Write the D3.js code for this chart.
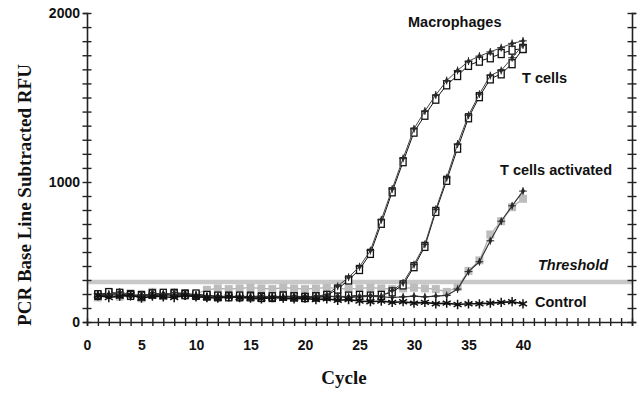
<!DOCTYPE html>
<html>
<head>
<meta charset="utf-8">
<script src="https://cdn.jsdelivr.net/npm/d3@7"></script>
<style>
  body { margin: 0; background: #fff; }
  svg { display: block; }
  .lbl { font-family: "Liberation Sans", Arial, sans-serif; font-weight: bold; font-size: 14.5px; fill: #111; }
  .ttl { font-family: "Liberation Serif", "Times New Roman", serif; font-weight: bold; fill: #111; }
</style>
</head>
<body>
<div id="chart"></div>
<script>
// cycles 1..40
var cycles = d3.range(1, 41);

var macrophagesA = [195,210,205,190,185,200,205,200,195,200,190,185,180,185,180,175,180,185,180,175,180,190,
  235,300,375,490,705,930,1120,1295,1395,1490,1575,1630,1690,1715,1735,1760,1780,1790];
var macrophagesB = [180,200,215,195,175,210,195,210,205,190,185,175,185,180,175,180,175,180,185,180,185,195,
  255,320,395,510,730,950,1140,1315,1420,1515,1600,1660,1715,1745,1770,1795,1820,1835];
var tcellsA = [190,205,200,195,190,200,195,205,200,190,185,180,185,180,185,180,175,185,180,175,180,185,180,185,190,185,190,
  215,265,395,540,790,1010,1200,1380,1505,1610,1640,1700,1790];
var tcellsB = [200,195,210,185,195,190,205,195,190,195,180,185,180,175,180,185,180,175,180,185,175,180,185,180,185,190,185,
  225,280,410,555,805,1025,1225,1395,1520,1630,1660,1735,1810];
var activatedA = [175,215,180,205,170,215,185,195,205,200,230,240,235,240,245,240,235,245,240,235,240,245,240,235,240,245,240,235,240,245,240,235,
  215,250,365,440,625,720,820,880];
var activatedB = [185,195,190,180,190,185,195,190,185,190,175,185,180,175,180,185,175,180,185,175,180,185,180,175,180,185,180,175,180,185,180,185,
  190,235,360,430,580,720,830,935];
var control = [190,175,185,195,170,185,180,175,190,180,175,170,180,175,170,165,175,170,165,170,160,165,155,160,
  150,145,150,140,145,135,140,130,135,125,130,130,135,140,145,130];

var thresholdValue = 286;

var labels = [
  {text: "Macrophages", x: 408, y: 27, italic: false},
  {text: "T cells", x: 522, y: 83, italic: false},
  {text: "T cells activated", x: 500, y: 175, italic: false},
  {text: "Threshold", x: 538, y: 270, italic: true},
  {text: "Control", x: 535, y: 307, italic: false}
];

var xTickLabels = [0, 5, 10, 15, 20, 25, 30, 35, 40];
var yTickLabels = [0, 1000, 2000];

var width = 641, height = 394;
var svg = d3.select("#chart").append("svg")
    .attr("width", width)
    .attr("height", height);

var x = d3.scaleLinear().domain([0, 50]).range([87, 632]);
// the printed axis is not evenly spaced between its labels
var y = d3.scaleLinear().domain([0, 1000, 2000]).range([322, 182, 13]);

var yTicks = d3.range(0, 1000, 100).concat(d3.range(0, 13).map(function(i) { return 1000 + i * 1000 / 12; }));

// threshold line
svg.append("line")
    .attr("x1", x(0)).attr("x2", x(50))
    .attr("y1", y(thresholdValue)).attr("y2", y(thresholdValue))
    .attr("stroke", "#c8c8c8")
    .attr("stroke-width", 4.5);

// axes
var xAxis = svg.append("g")
    .attr("transform", "translate(0," + y(0) + ")")
    .call(d3.axisBottom(x).tickValues(d3.range(0, 51)).tickSize(4).tickPadding(14)
        .tickFormat(function(d) { return xTickLabels.indexOf(d) >= 0 ? d : ""; }));
var yAxis = svg.append("g")
    .attr("transform", "translate(" + x(0) + ",0)")
    .call(d3.axisLeft(y).tickValues(yTicks).tickSize(4).tickPadding(3)
        .tickFormat(function(d) { return yTickLabels.indexOf(d) >= 0 ? d : ""; }));
var rAxis = svg.append("g")
    .attr("transform", "translate(" + x(50) + ",0)")
    .call(d3.axisRight(y).tickValues(yTicks).tickSize(4).tickFormat(""));

[xAxis, yAxis, rAxis].forEach(function(g) {
  g.select(".domain").attr("stroke", "#222").attr("stroke-width", 1.6);
  g.selectAll(".tick line").attr("stroke", "#222").attr("stroke-width", 1.4);
  g.selectAll("text")
    .attr("font-family", "Liberation Sans, Arial, sans-serif")
    .attr("font-weight", "bold")
    .attr("font-size", "14px")
    .attr("fill", "#111");
});
xAxis.selectAll(".tick line").attr("y1", -4).attr("y2", 4);
yAxis.selectAll(".tick line").attr("x1", -4.5).attr("x2", 4.5);
rAxis.selectAll(".tick line").attr("x1", -4.5).attr("x2", 4.5);

// series (squares first, darker markers over them)
var line = d3.line()
    .x(function(d, i) { return x(cycles[i]); })
    .y(function(d) { return y(d); });

var series = [
  {values: activatedA, color: "#aaa", width: 1.2, marker: "graysq"},
  {values: tcellsA, color: "#111", width: 1, marker: "square"},
  {values: macrophagesA, color: "#111", width: 1, marker: "square"},
  {values: tcellsB, color: "#444", width: 1, marker: "diamond"},
  {values: macrophagesB, color: "#444", width: 1, marker: "diamond"},
  {values: activatedB, color: "#333", width: 1.2, marker: "diamond"},
  {values: control, color: "#111", width: 1.6, marker: "star"}
];

series.forEach(function(s) {
  svg.append("path")
      .datum(s.values)
      .attr("fill", "none")
      .attr("stroke", s.color)
      .attr("stroke-width", s.width)
      .attr("d", line);

  var pts = svg.append("g").selectAll("g")
      .data(s.values)
      .enter()
      .append("g")
      .attr("transform", function(d, i) { return "translate(" + x(cycles[i]) + "," + y(d) + ")"; });

  if (s.marker === "square") {
    pts.append("rect")
        .attr("x", -3).attr("y", -4).attr("width", 6).attr("height", 8)
        .attr("fill", "#fff").attr("stroke", "#111").attr("stroke-width", 1.3);
  } else if (s.marker === "graysq") {
    pts.append("rect")
        .attr("x", -4).attr("y", -4).attr("width", 8).attr("height", 8)
        .attr("fill", "#bdbdbd");
  } else if (s.marker === "diamond") {
    pts.append("path")
        .attr("d", d3.symbol(d3.symbolDiamond, 14))
        .attr("fill", "#2a2a2a");
    pts.append("path")
        .attr("d", d3.symbol(d3.symbolPlus, 22))
        .attr("fill", "none")
        .attr("stroke", "#2a2a2a")
        .attr("stroke-width", 1);
  } else if (s.marker === "star") {
    pts.append("path")
        .attr("d", d3.symbol(d3.symbolAsterisk, 60))
        .attr("fill", "none")
        .attr("stroke", "#111")
        .attr("stroke-width", 1.5);
  }
});

// annotations
svg.selectAll(".lbl")
    .data(labels)
    .enter()
    .append("text")
    .attr("class", "lbl")
    .attr("x", function(d) { return d.x; })
    .attr("y", function(d) { return d.y; })
    .attr("font-style", function(d) { return d.italic ? "italic" : "normal"; })
    .text(function(d) { return d.text; });

// axis titles
svg.append("text")
    .attr("class", "ttl")
    .attr("x", 344).attr("y", 384)
    .attr("text-anchor", "middle")
    .attr("font-size", "19px")
    .text("Cycle");

svg.append("text")
    .attr("class", "ttl")
    .attr("transform", "translate(31,195) rotate(-90)")
    .attr("text-anchor", "middle")
    .attr("font-size", "19px")
    .text("PCR Base Line Subtracted RFU");
</script>
</body>
</html>
